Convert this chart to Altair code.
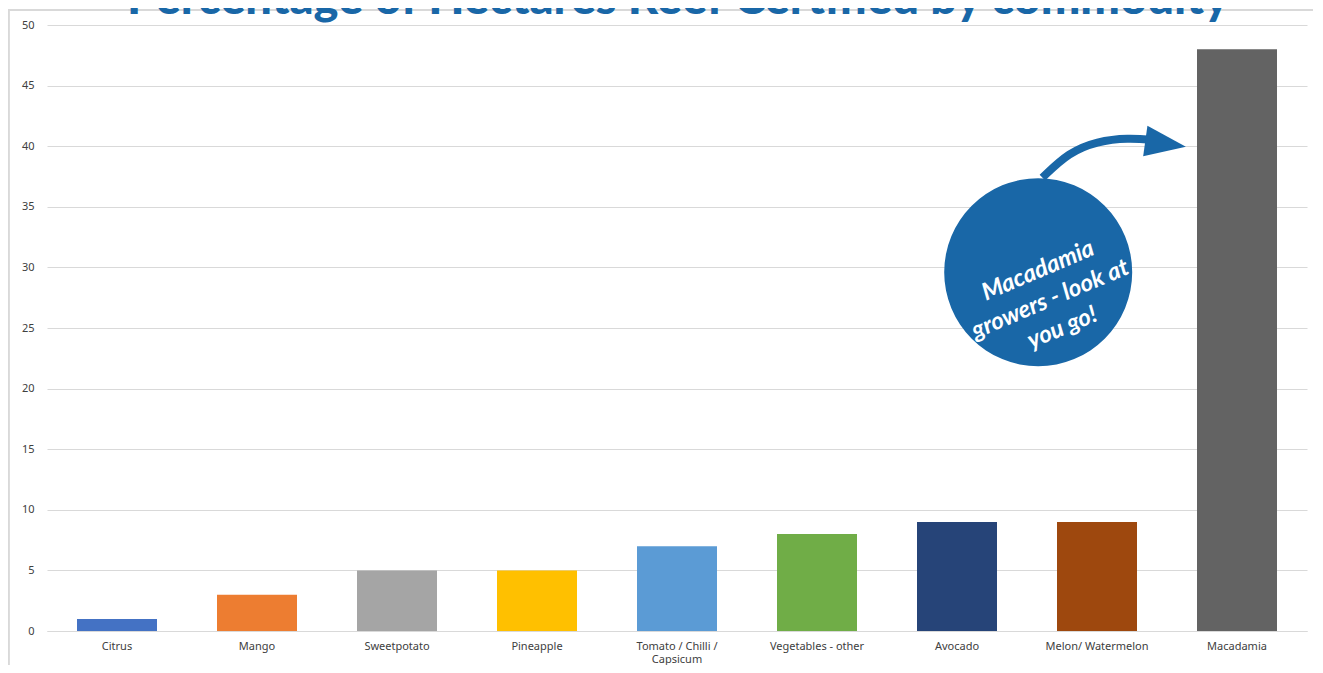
import altair as alt
import pandas as pd

categories = ["Citrus", "Mango", "Sweetpotato", "Pineapple", "Tomato / Chilli / Capsicum",
              "Vegetables - other", "Avocado", "Melon/ Watermelon", "Macadamia"]
values = [1, 3, 5, 5, 7, 8, 9, 9, 48]
colors = ["#4472c4", "#ed7d31", "#a5a5a5", "#ffc000", "#5b9bd5",
          "#70ad47", "#264478", "#9e480e", "#636363"]

title_text = "Percentage of Hectares Reef Certified by commodity"
note_text = "Macadamia\ngrowers - look at\nyou go!"
BLUE = "#1967a7"

df = pd.DataFrame({"cat": categories, "val": values})

W, H = 1260, 606

yaxis = alt.Axis(values=list(range(0, 51, 5)), domain=False, ticks=False,
                 gridColor="#d9d9d9", labelColor="#404040", labelFont="Noto Sans",
                 labelFontSize=11, labelPadding=13)
yscale = alt.Scale(domain=[0, 50], nice=False)

xband = alt.X("cat:N", sort=categories, title=None,
              scale=alt.Scale(paddingInner=0.4286, paddingOuter=0.2143),
              axis=alt.Axis(labelAngle=0, ticks=False, domain=True, domainColor="#d9d9d9",
                            labelColor="#404040", labelFont="Noto Sans", labelFontSize=11,
                            labelPadding=9, labelLimit=200, grid=False,
                            labelExpr="datum.label == 'Tomato / Chilli / Capsicum' ? ['Tomato / Chilli /', 'Capsicum'] : datum.label"))

bars = alt.Chart(df).mark_bar().encode(
    x=xband, y=alt.Y("val:Q", title=None, scale=yscale, axis=yaxis),
    color=alt.Color("cat:N", scale=alt.Scale(domain=categories, range=colors), legend=None),
)

# annotation layer on an overlay index scale (category i spans [i, i+1])
xo = alt.Scale(domain=[0, 9], nice=False, zero=False)


def ox():
    return alt.X("x:Q", scale=xo, axis=None)


def oy():
    return alt.Y("y:Q", title=None, scale=yscale, axis=yaxis)


circle_df = pd.DataFrame({"x": [7.08], "y": [29.6]})
circle = alt.Chart(circle_df).mark_circle(size=35344, color=BLUE, opacity=1).encode(
    x=ox(), y=oy())

arrow_df = pd.DataFrame({"x": [7.11, 7.30, 7.50, 7.72, 7.92],
                         "y": [37.4, 39.5, 40.4, 40.7, 40.5], "o": [0, 1, 2, 3, 4]})
arrow = alt.Chart(arrow_df).mark_line(color=BLUE, strokeWidth=8, interpolate="basis").encode(
    x=ox(), y=oy(), order="o:Q")

head_df = pd.DataFrame({"x": [7.99], "y": [40.2]})
head = alt.Chart(head_df).mark_point(
    shape="M-1,-0.75L1,0L-1,0.75Z", size=1681, filled=True, color=BLUE, opacity=1, angle=8,
    strokeWidth=0).encode(x=ox(), y=oy())

note_df = pd.DataFrame({"x": [7.08], "y": [29.7], "t": [note_text]})
note = alt.Chart(note_df).mark_text(
    angle=337, lineBreak="\n", color="white", font="Lato", fontSize=24, fontWeight="bold",
    fontStyle="italic", align="center", baseline="middle", lineHeight=31).encode(
    x=ox(), y=oy(), text="t:N")

border_top = alt.Chart(df).mark_rule(color="#d9d9d9", strokeWidth=1.5).encode(
    x=alt.value(-40), x2=alt.value(1300), y=alt.value(-15))
border_left = alt.Chart(df).mark_rule(color="#d9d9d9", strokeWidth=1.5).encode(
    x=alt.value(-38.5), y=alt.value(-15), y2=alt.value(700))

title_df = pd.DataFrame({"t": [title_text]})
title = alt.Chart(title_df).mark_text(
    color=BLUE, font="Lato", fontSize=47, fontWeight=900, align="center",
    baseline="alphabetic").encode(x=alt.value(631), y=alt.value(-11), text="t:N")

chart = alt.layer(border_top, border_left, bars, circle, arrow, head, note, title).resolve_scale(
    x="independent"
).properties(
    width=W, height=H,
    autosize=alt.AutoSizeParams(type="none"),
    padding={"left": 39, "top": 17, "right": 6, "bottom": 34},
    view=alt.ViewBackground(stroke="transparent", strokeWidth=0),
).configure_view(strokeWidth=0, stroke="transparent").configure(background="white")

chart.save("out.html", embed_options={"renderer": "svg", "actions": False})
